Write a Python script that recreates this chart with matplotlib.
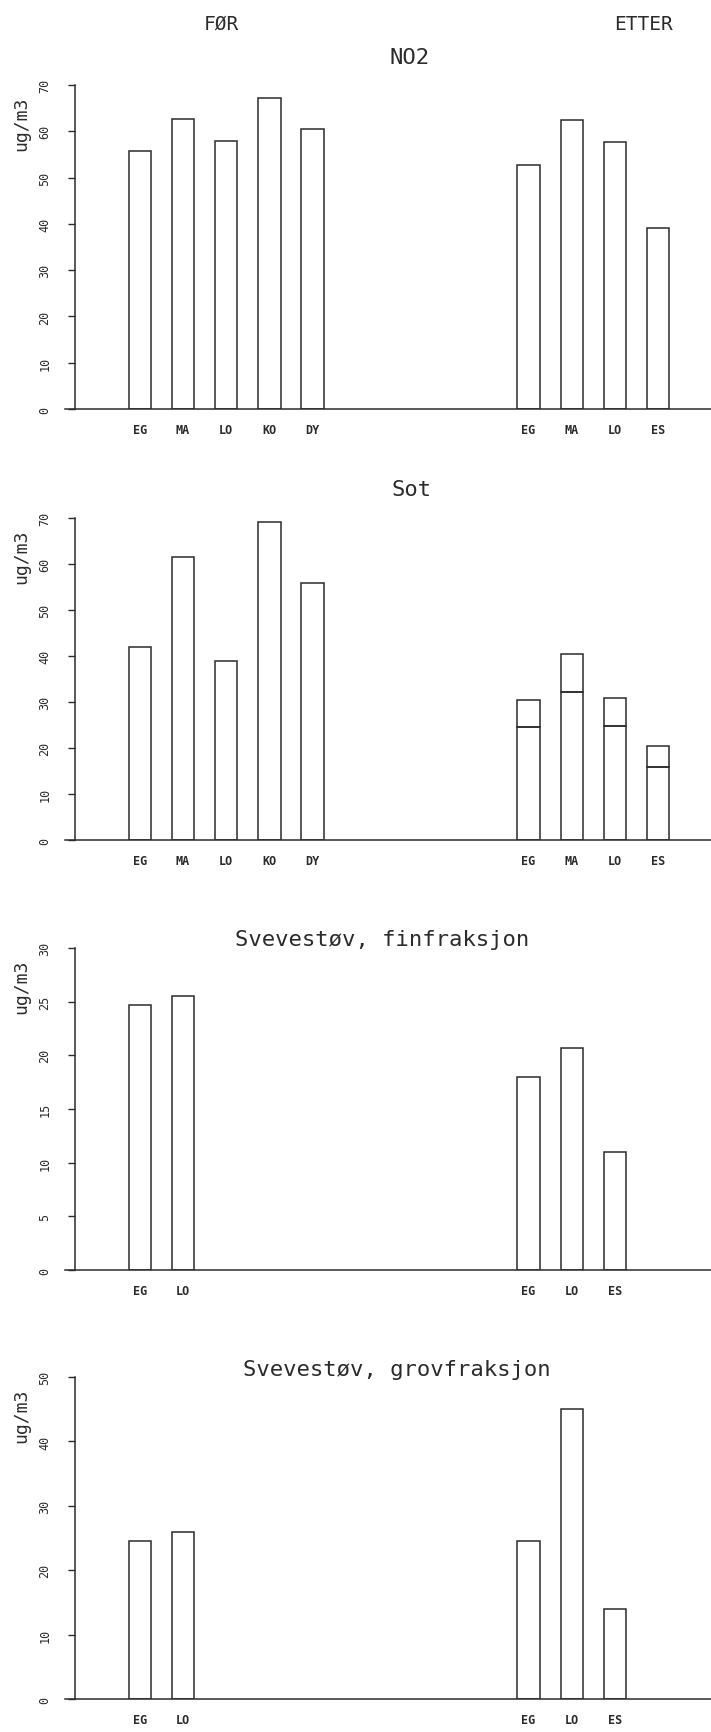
import matplotlib
matplotlib.use("Agg")
import matplotlib.pyplot as plt
import numpy as np

# ---- data (ug/m3) ----
sites_for = ["EG", "MA", "LO", "KO", "DY"]
sites_etter = ["EG", "MA", "LO", "ES"]

no2_for = [55.7, 62.6, 57.8, 67.2, 60.5]
no2_etter = [52.7, 62.4, 57.6, 39.2]

sot_for = [42.0, 61.5, 39.0, 69.2, 55.8]
sot_etter_lower = [24.5, 32.1, 24.7, 15.9]
sot_etter_total = [30.5, 40.5, 30.8, 20.5]

pm_sites_for = ["EG", "LO"]
pm_sites_etter = ["EG", "LO", "ES"]

fin_for = [24.7, 25.5]
fin_etter = [18.0, 20.7, 11.0]

grov_for = [24.5, 25.9]
grov_etter = [24.5, 45.0, 13.9]

INK = "#2b2b2b"
MONO = "DejaVu Sans Mono"
W, H = 711, 1733

fig = plt.figure(figsize=(W / 100, H / 100), dpi=100)
fig.patch.set_facecolor("white")

# (top tick px, baseline px, ymax, ytick step, title, title centre x px, title y px)
panels = [
    (86, 410, 70, 10, "NO2", 410, 58),
    (519, 841, 70, 10, "Sot", 412, 490),
    (949, 1271, 30, 5, "Svevestøv, finfraksjon", 382, 940),
    (1378, 1700, 50, 10, "Svevestøv, grovfraksjon", 397, 1370),
]

x_left_px, x0_px, px_per_unit = 65, 75, 21.6
xmin = (x_left_px - x0_px) / px_per_unit
xmax = (W - x0_px) / px_per_unit


def bar_pos(start, n):
    return [start + 2 * i for i in range(n)]


axes = []
for top, base, ymax, step, title, tx, ty in panels:
    hpx = base - top
    ax = fig.add_axes([x_left_px / W, 1 - base / H, (W - x_left_px) / W, hpx / H])
    ax.set_xlim(xmin, xmax)
    ax.set_ylim(0, ymax)
    for s in ("top", "right"):
        ax.spines[s].set_visible(False)
    ax.spines["left"].set_position(("data", 0))
    ax.spines["left"].set_bounds(0, ymax)
    for s in ("left", "bottom"):
        ax.spines[s].set_color(INK)
        ax.spines[s].set_linewidth(1.1)
    ax.set_yticks(np.arange(0, ymax + 1, step))
    ax.tick_params(axis="y", direction="out", length=5, width=1, color=INK,
                   pad=12, labelsize=8.5, labelcolor=INK, labelrotation=90)
    for lab in ax.get_yticklabels():
        lab.set_fontfamily(MONO)
        lab.set_va("center")
    ax.tick_params(axis="x", length=0, pad=10, labelsize=8.5, labelcolor=INK)
    ax.text((21 - x_left_px) / (W - x_left_px), 1 - 38 / hpx, "ug/m3",
            transform=ax.transAxes, rotation=90, ha="center", va="center",
            fontsize=13, color=INK, family=MONO)
    ax.text((tx - x_left_px) / (W - x_left_px), 1 + (top - ty) / hpx, title,
            transform=ax.transAxes, ha="center", va="center",
            fontsize=16, color=INK, family=MONO)
    axes.append(ax)

bar_kw = dict(width=1.03, fill=False, edgecolor=INK, linewidth=1.1)

# NO2
ax = axes[0]
xf, xe = bar_pos(3, len(sites_for)), bar_pos(21, len(sites_etter))
ax.bar(xf, no2_for, **bar_kw)
ax.bar(xe, no2_etter, **bar_kw)
ax.set_xticks(xf + xe, sites_for + sites_etter)

# Sot (after-period bars split in two parts)
ax = axes[1]
ax.bar(xf, sot_for, **bar_kw)
upper = np.array(sot_etter_total) - np.array(sot_etter_lower)
ax.bar(xe, sot_etter_lower, **bar_kw)
ax.bar(xe, upper, bottom=sot_etter_lower, **bar_kw)
ax.set_xticks(xf + xe, sites_for + sites_etter)

# Svevestøv fin / grov
pf, pe = bar_pos(3, len(pm_sites_for)), bar_pos(21, len(pm_sites_etter))
for ax, vf, ve in ((axes[2], fin_for, fin_etter), (axes[3], grov_for, grov_etter)):
    ax.bar(pf, vf, **bar_kw)
    ax.bar(pe, ve, **bar_kw)
    ax.set_xticks(pf + pe, pm_sites_for + pm_sites_etter)

for ax in axes:
    for lab in ax.get_xticklabels():
        lab.set_fontfamily(MONO)
        lab.set_fontweight("bold")

fig.text(221 / W, 1 - 24 / H, "FØR", ha="center", va="center",
         fontsize=14, color=INK, family=MONO)
fig.text(643 / W, 1 - 24 / H, "ETTER", ha="center", va="center",
         fontsize=14, color=INK, family=MONO)

fig.savefig("out.png", dpi=100, facecolor="white")
